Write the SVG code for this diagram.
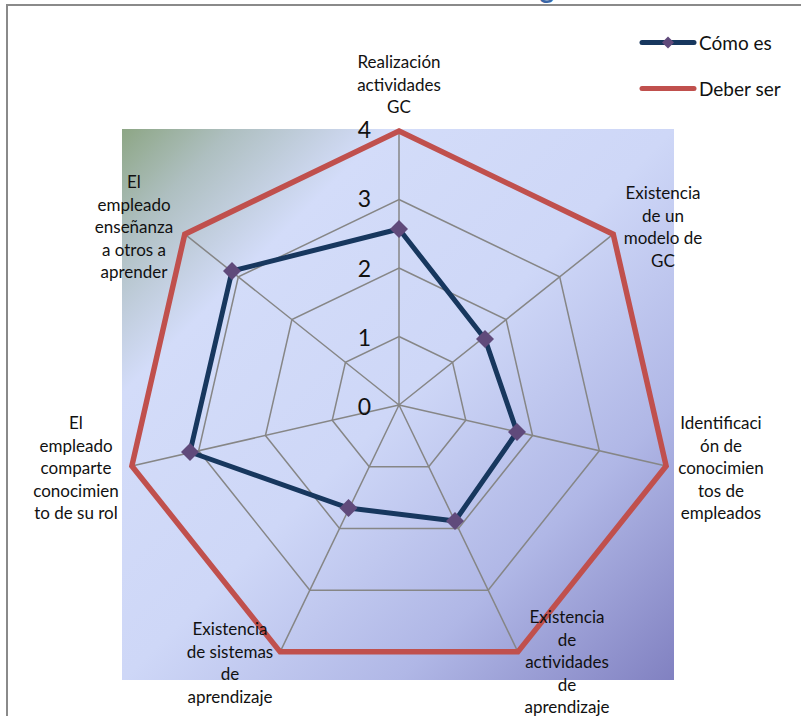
<svg xmlns="http://www.w3.org/2000/svg" width="804" height="716" viewBox="0 0 804 716">
  <style>
    .lbl { font-family: Lato, "Liberation Sans", sans-serif; font-size: 17px; fill: #111; text-anchor: middle; }
    .tick { font-family: Lato, "Liberation Sans", sans-serif; font-size: 23px; fill: #111; text-anchor: end; }
    .leg { font-family: Lato, "Liberation Sans", sans-serif; font-size: 19px; fill: #111; }
    .grid { fill: none; stroke: #868686; stroke-width: 1.5; }
    .target { fill: none; stroke: #c0504d; stroke-width: 5.5; stroke-linejoin: miter; }
    .current { fill: none; stroke: #17375e; stroke-width: 5; stroke-linejoin: round; }
    .mk { fill: #604a7b; }
  </style>
  <defs>
    <linearGradient id="plotBg" x1="122" y1="129" x2="674" y2="680" gradientUnits="userSpaceOnUse">
      <stop offset="0" stop-color="#8da685"/>
      <stop offset="0.1" stop-color="#aebfc0"/>
      <stop offset="0.24" stop-color="#d3dcf9"/>
      <stop offset="0.5" stop-color="#ced7f7"/>
      <stop offset="0.75" stop-color="#b0b7e6"/>
      <stop offset="1" stop-color="#8181c1"/>
    </linearGradient>
    <path id="dia" d="M0,-9 L9,0 L0,9 L-9,0 Z"/>
  </defs>

  <rect width="804" height="716" fill="#ffffff"/>

  <!-- title descender peeking above the chart frame -->
  <text x="547" y="-2" font-family="Lato, 'Liberation Sans', sans-serif" font-size="28" font-weight="bold" fill="#3a66a6" text-anchor="middle">g</text>

  <!-- chart frame -->
  <path d="M7,716 V5 H801" fill="none" stroke="#8a8a8a" stroke-width="2"/>

  <!-- plot area -->
  <rect x="122" y="129" width="552" height="551" fill="url(#plotBg)"/>

  <g id="grid">
    <polygon class="grid" points="399,336.5 452.56,362.29 465.78,420.24 428.72,466.72 369.28,466.72 332.22,420.24 345.44,362.29"/>
    <polygon class="grid" points="399,268 506.11,319.58 532.57,435.49 458.44,528.43 339.56,528.43 265.43,435.49 291.89,319.58"/>
    <polygon class="grid" points="399,199.5 559.67,276.87 599.35,450.73 488.16,590.15 309.84,590.15 198.65,450.73 238.33,276.87"/>
    <polygon class="grid" points="399,131 613.22,234.16 666.13,465.97 517.88,651.87 280.12,651.87 131.87,465.97 184.78,234.16"/>
    <path class="grid" d="M399,405 L399,131 M399,405 L613.22,234.16 M399,405 L666.13,465.97 M399,405 L517.88,651.87 M399,405 L280.12,651.87 M399,405 L131.87,465.97 M399,405 L184.78,234.16"/>
  </g>

  <g id="series-deber-ser">
    <polygon class="target" points="399,131 613.22,234.16 666.13,465.97 517.88,651.87 280.12,651.87 131.87,465.97 184.78,234.16"/>
  </g>

  <g id="series-como-es">
    <polygon class="current" points="399,229 485,339 517,432 455,521 348.5,508 190,452 232,271"/>
    <use href="#dia" class="mk" x="399" y="229"/>
    <use href="#dia" class="mk" x="485" y="339"/>
    <use href="#dia" class="mk" x="517" y="432"/>
    <use href="#dia" class="mk" x="455" y="521"/>
    <use href="#dia" class="mk" x="348.5" y="508"/>
    <use href="#dia" class="mk" x="190" y="452"/>
    <use href="#dia" class="mk" x="232" y="271"/>
  </g>

  <g id="ticks">
    <text class="tick" x="371" y="415">0</text>
    <text class="tick" x="371" y="345.75">1</text>
    <text class="tick" x="371" y="276.5">2</text>
    <text class="tick" x="371" y="207.25">3</text>
    <text class="tick" x="371" y="138">4</text>
  </g>

  <g id="axis-realizacion">
    <text class="lbl" y="68"><tspan x="399">Realización</tspan><tspan x="399" dy="22.5">actividades</tspan><tspan x="399" dy="22.5">GC</tspan></text>
  </g>
  <g id="axis-modelo">
    <text class="lbl" y="199"><tspan x="663">Existencia</tspan><tspan x="663" dy="22.5">de un</tspan><tspan x="663" dy="22.5">modelo de</tspan><tspan x="663" dy="22.5">GC</tspan></text>
  </g>
  <g id="axis-identificacion">
    <text class="lbl" y="429"><tspan x="721">Identificaci</tspan><tspan x="721" dy="22.5">ón de</tspan><tspan x="721" dy="22.5">conocimien</tspan><tspan x="721" dy="22.5">tos de</tspan><tspan x="721" dy="22.5">empleados</tspan></text>
  </g>
  <g id="axis-actividades">
    <text class="lbl" y="623"><tspan x="567">Existencia</tspan><tspan x="567" dy="22.5">de</tspan><tspan x="567" dy="22.5">actividades</tspan><tspan x="567" dy="22.5">de</tspan><tspan x="567" dy="22.5">aprendizaje</tspan></text>
  </g>
  <g id="axis-sistemas">
    <text class="lbl" y="635"><tspan x="230">Existencia</tspan><tspan x="230" dy="22.5">de sistemas</tspan><tspan x="230" dy="22.5">de</tspan><tspan x="230" dy="22.5">aprendizaje</tspan></text>
  </g>
  <g id="axis-comparte">
    <text class="lbl" y="429"><tspan x="76">El</tspan><tspan x="76" dy="22.5">empleado</tspan><tspan x="76" dy="22.5">comparte</tspan><tspan x="76" dy="22.5">conocimien</tspan><tspan x="76" dy="22.5">to de su rol</tspan></text>
  </g>
  <g id="axis-ensenanza">
    <text class="lbl" y="188"><tspan x="134">El</tspan><tspan x="134" dy="22.5">empleado</tspan><tspan x="134" dy="22.5">enseñanza</tspan><tspan x="134" dy="22.5">a otros a</tspan><tspan x="134" dy="22.5">aprender</tspan></text>
  </g>

  <g id="legend">
    <line x1="642" y1="42.5" x2="694" y2="42.5" stroke="#17375e" stroke-width="5" stroke-linecap="round"/>
    <path d="M668,36.5 L674,42.5 L668,48.5 L662,42.5 Z" class="mk"/>
    <text class="leg" x="699" y="49.5">Cómo es</text>
    <line x1="642" y1="88.5" x2="694" y2="88.5" stroke="#c0504d" stroke-width="5" stroke-linecap="round"/>
    <text class="leg" x="699" y="95.5">Deber ser</text>
  </g>
</svg>
